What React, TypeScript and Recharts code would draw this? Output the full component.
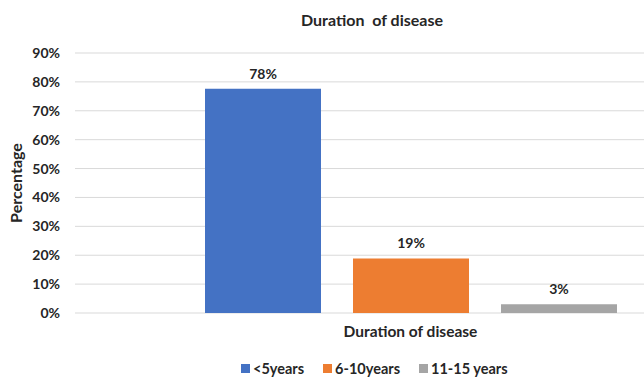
import React from 'react';
import { BarChart, Bar, XAxis, YAxis, CartesianGrid, Legend, LabelList } from 'recharts';

const categories = ['Duration of disease'];
const seriesNames = ['<5years', '6-10years', '11-15 years'];
const seriesKeys = ['s1', 's2', 's3'];
const seriesColors = ['#4472C4', '#ED7D31', '#A5A5A5'];
const under5Values = [77.6];
const from6to10Values = [18.9];
const from11to15Values = [3.0];
const yTicks = [0, 10, 20, 30, 40, 50, 60, 70, 80, 90];

const data = categories.map((c, i) => ({
  name: c,
  s1: under5Values[i],
  s2: from6to10Values[i],
  s3: from11to15Values[i],
}));

const FONT = 'Lato, "Noto Sans", sans-serif';
const TEXT = '#262626';

const renderLegend = () => (
  <div style={{ display: 'flex', alignItems: 'center', fontFamily: FONT, fontWeight: 700, fontSize: 14.5, color: TEXT }}>
    {seriesNames.map((n, i) => (
      <div key={i} style={{ display: 'flex', alignItems: 'center', marginRight: 19 }}>
        <span style={{ display: 'inline-block', width: 9, height: 9, background: seriesColors[i], marginRight: 3 }} />
        <span>{n}</span>
      </div>
    ))}
  </div>
);

export default function App() {
  return (
    <div style={{ position: 'absolute', left: 0, top: 0, width: 644, height: 377, background: '#fff' }}>
      <div
        style={{
          position: 'absolute',
          left: 0,
          width: 744,
          top: 10,
          textAlign: 'center',
          fontFamily: FONT,
          fontWeight: 700,
          fontSize: 16,
          color: TEXT,
          whiteSpace: 'pre',
        }}
      >
        {'Duration  of disease'}
      </div>
      <BarChart
        width={644}
        height={377}
        data={data}
        margin={{ top: 53, right: 0, left: 0, bottom: 0 }}
        barGap={32}
        barSize={116}
      >
        <CartesianGrid vertical={false} stroke="#D9D9D9" />
        <XAxis
          dataKey="name"
          height={64}
          axisLine={false}
          tickLine={false}
          tickMargin={7}
          padding={{ left: 102, right: 0 }}
          tick={{ fontFamily: FONT, fontWeight: 700, fontSize: 15.5, fill: TEXT }}
        />
        <YAxis
          width={75}
          domain={[0, 90]}
          ticks={yTicks}
          interval={0}
          axisLine={false}
          tickLine={false}
          tickMargin={9}
          tickFormatter={(v: number) => `${v}%`}
          tick={{ fontFamily: FONT, fontWeight: 700, fontSize: 14, fill: TEXT }}
          label={{
            value: 'Percentage',
            angle: -90,
            position: 'insideLeft',
            offset: 16,
            style: { fontFamily: FONT, fontWeight: 700, fontSize: 16, fill: TEXT, textAnchor: 'middle' },
          }}
        />
        <Legend
          layout="horizontal"
          align="center"
          verticalAlign="middle"
          content={renderLegend}
          wrapperStyle={{ left: 241, top: 360, width: 'auto' }}
        />
        {seriesKeys.map((k, i) => (
          <Bar key={k} dataKey={k} name={seriesNames[i]} fill={seriesColors[i]} isAnimationActive={false}>
            <LabelList
              dataKey={k}
              position="top"
              offset={10}
              formatter={(v: any) => `${Math.round(Number(v))}%`}
              style={{ fontFamily: FONT, fontWeight: 700, fontSize: 14, fill: TEXT }}
            />
          </Bar>
        ))}
      </BarChart>
    </div>
  );
}
